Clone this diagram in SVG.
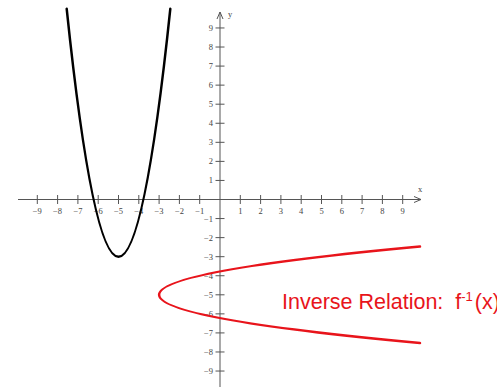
<svg xmlns="http://www.w3.org/2000/svg" width="497" height="387" viewBox="0 0 497 387">
<style>
.ax{stroke:#555;stroke-width:1;fill:none}
.tl{font-family:"Liberation Serif",serif;font-size:8.5px;fill:#444}
.xl{text-anchor:middle}
.yl{text-anchor:end}
.curve{fill:none;stroke-width:2.5;stroke-linecap:round}
</style>
<rect width="497" height="387" fill="#fff"/>
<g id="axes">
<path class="ax" d="M18,199.5H421M220,12V387"/>
<path class="ax" d="M414,196.5L421,199.5L414,202.5M217,19L220,12L223,19"/>
<path class="ax" d="M37.3,195V204M57.6,195V204M77.9,195V204M98.2,195V204M118.5,195V204M138.8,195V204M159.1,195V204M179.4,195V204M199.7,195V204M240.3,195V204M260.6,195V204M280.9,195V204M301.2,195V204M321.5,195V204M341.8,195V204M362.1,195V204M382.4,195V204M402.7,195V204"/>
<path class="ax" d="M215.5,180.44H224.5M215.5,161.38H224.5M215.5,142.32H224.5M215.5,123.26H224.5M215.5,104.2H224.5M215.5,85.14H224.5M215.5,66.08H224.5M215.5,47.02H224.5M215.5,27.96H224.5M215.5,218.56H224.5M215.5,237.62H224.5M215.5,256.68H224.5M215.5,275.74H224.5M215.5,294.8H224.5M215.5,313.86H224.5M215.5,332.92H224.5M215.5,351.98H224.5M215.5,371.04H224.5"/>
<text class="tl" x="420" y="192" text-anchor="middle">x</text>
<text class="tl" x="228" y="17">y</text>
<g class="tl xl">
<text x="37.3" y="214">−9</text><text x="57.6" y="214">−8</text><text x="77.9" y="214">−7</text><text x="98.2" y="214">−6</text><text x="118.5" y="214">−5</text><text x="138.8" y="214">−4</text><text x="159.1" y="214">−3</text><text x="179.4" y="214">−2</text><text x="199.7" y="214">−1</text>
<text x="240.3" y="214">1</text><text x="260.6" y="214">2</text><text x="280.9" y="214">3</text><text x="301.2" y="214">4</text><text x="321.5" y="214">5</text><text x="341.8" y="214">6</text><text x="362.1" y="214">7</text><text x="382.4" y="214">8</text><text x="402.7" y="214">9</text>
</g>
<g class="tl yl">
<text x="213" y="183.4">1</text><text x="213" y="164.4">2</text><text x="213" y="145.3">3</text><text x="213" y="126.3">4</text><text x="213" y="107.2">5</text><text x="213" y="88.1">6</text><text x="213" y="69.1">7</text><text x="213" y="50">8</text><text x="213" y="31">9</text>
<text x="213" y="221.6">−1</text><text x="213" y="240.6">−2</text><text x="213" y="259.7">−3</text><text x="213" y="278.7">−4</text><text x="213" y="297.8">−5</text><text x="213" y="316.9">−6</text><text x="213" y="335.9">−7</text><text x="213" y="355">−8</text><text x="213" y="374">−9</text>
</g>
</g>
<g id="f">
<path class="curve" stroke="#000" d="M66.7,8.8Q118.5,504.6 170.3,8.8"/>
</g>
<g id="f-inverse">
<path class="curve" stroke="#e8141b" d="M420,246.5Q-101.8,294.8 420,343.1"/>
</g>
<g id="label">
<text x="282" y="309" font-family="Liberation Sans,Arial,sans-serif" font-size="21.5" fill="#e8141b">Inverse Relation:&#160; f<tspan font-size="13" dy="-8">-1</tspan><tspan dy="8" dx="2">(x)</tspan></text>
</g>
</svg>
